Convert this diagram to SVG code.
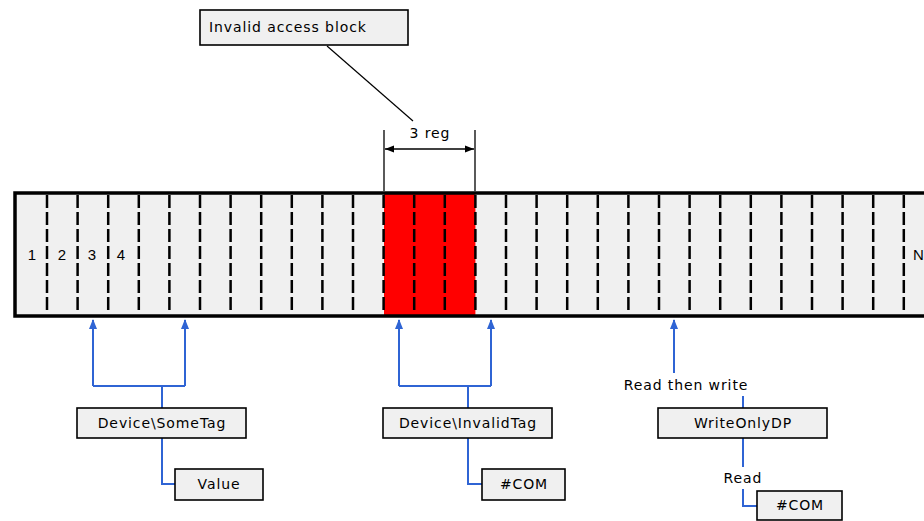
<svg xmlns="http://www.w3.org/2000/svg" width="924" height="521" viewBox="0 0 924 521">
<defs>
<style>
.box{fill:#f0f0f0;stroke:#000;stroke-width:1.6}
.t{font-family:"DejaVu Sans",sans-serif;font-size:14px;letter-spacing:0.9px;fill:#000}
.n{font-family:"Liberation Sans",Arial,sans-serif;font-size:15px;fill:#000}
.div{stroke:#000;stroke-width:2.5;stroke-dasharray:13 4}
.bl{fill:none;stroke:#2f64d4;stroke-width:2}
.blk{fill:none;stroke:#000;stroke-width:1.3}
</style>
<marker id="ab" viewBox="0 0 10 10" refX="9" refY="5" markerWidth="10" markerHeight="10" markerUnits="userSpaceOnUse" orient="auto">
<path d="M0,1 L10,5 L0,9 Z" fill="#2f64d4"/>
</marker>
<marker id="ak" viewBox="0 0 10 10" refX="10" refY="5" markerWidth="12" markerHeight="9" markerUnits="userSpaceOnUse" orient="auto">
<path d="M0,1 L10,5 L0,9 Z" fill="#000"/>
</marker>
</defs>
<rect width="924" height="521" fill="#fff"/>
<g id="register-strip">
<rect x="15" y="193" width="915" height="123" fill="#f0f0f0"/>
<rect x="384" y="193" width="91.4" height="123" fill="#ff0000"/>
<g class="div">
<line x1="47" y1="195" x2="47" y2="313"/>
<line x1="77.6" y1="195" x2="77.6" y2="313"/>
<line x1="108.2" y1="195" x2="108.2" y2="313"/>
<line x1="138.8" y1="195" x2="138.8" y2="313"/>
<line x1="169.4" y1="195" x2="169.4" y2="313"/>
<line x1="200" y1="195" x2="200" y2="313"/>
<line x1="230.6" y1="195" x2="230.6" y2="313"/>
<line x1="261.2" y1="195" x2="261.2" y2="313"/>
<line x1="291.8" y1="195" x2="291.8" y2="313"/>
<line x1="322.4" y1="195" x2="322.4" y2="313"/>
<line x1="353" y1="195" x2="353" y2="313"/>
<line x1="383.6" y1="195" x2="383.6" y2="313"/>
<line x1="414.2" y1="195" x2="414.2" y2="313"/>
<line x1="444.8" y1="195" x2="444.8" y2="313"/>
<line x1="475.4" y1="195" x2="475.4" y2="313"/>
<line x1="506" y1="195" x2="506" y2="313"/>
<line x1="536.6" y1="195" x2="536.6" y2="313"/>
<line x1="567.2" y1="195" x2="567.2" y2="313"/>
<line x1="597.8" y1="195" x2="597.8" y2="313"/>
<line x1="628.4" y1="195" x2="628.4" y2="313"/>
<line x1="659" y1="195" x2="659" y2="313"/>
<line x1="689.6" y1="195" x2="689.6" y2="313"/>
<line x1="720.2" y1="195" x2="720.2" y2="313"/>
<line x1="750.8" y1="195" x2="750.8" y2="313"/>
<line x1="781.4" y1="195" x2="781.4" y2="313"/>
<line x1="812" y1="195" x2="812" y2="313"/>
<line x1="842.6" y1="195" x2="842.6" y2="313"/>
<line x1="873.2" y1="195" x2="873.2" y2="313"/>
<line x1="903.8" y1="195" x2="903.8" y2="313"/>
</g>
<path d="M930,193 H15 V316 H930" fill="none" stroke="#000" stroke-width="3.5"/>
<text class="n" x="32" y="260" text-anchor="middle">1</text>
<text class="n" x="62" y="260" text-anchor="middle">2</text>
<text class="n" x="92" y="260" text-anchor="middle">3</text>
<text class="n" x="121" y="260" text-anchor="middle">4</text>
<text class="n" x="913" y="260">N</text>
</g>
<g id="dimension">
<line x1="384" y1="130" x2="384" y2="191" class="blk"/>
<line x1="475" y1="130" x2="475" y2="191" class="blk"/>
<line x1="429" y1="149" x2="385" y2="149" class="blk" marker-end="url(#ak)"/>
<line x1="429" y1="149" x2="474" y2="149" class="blk" marker-end="url(#ak)"/>
<text class="t" x="430" y="138" text-anchor="middle">3 reg</text>
</g>
<g id="connectors">
<line x1="327" y1="46" x2="413" y2="121" stroke="#000" stroke-width="1.2"/>
<path class="bl" d="M162,408 V386 M93,386 H185 M93,386 V321 M185,386 V321" />
<line class="bl" x1="93" y1="330" x2="93" y2="320" marker-end="url(#ab)"/>
<line class="bl" x1="185" y1="330" x2="185" y2="320" marker-end="url(#ab)"/>
<path class="bl" d="M162,438 V484 H175"/>
<path class="bl" d="M468,408 V386 M399,386 H491 M399,386 V321 M491,386 V321"/>
<line class="bl" x1="399" y1="330" x2="399" y2="320" marker-end="url(#ab)"/>
<line class="bl" x1="491" y1="330" x2="491" y2="320" marker-end="url(#ab)"/>
<path class="bl" d="M468,438 V484 H482"/>
<path class="bl" d="M674,373 V321"/>
<line class="bl" x1="674" y1="330" x2="674" y2="320" marker-end="url(#ab)"/>
<path class="bl" d="M743,396 V408"/>
<path class="bl" d="M743,438 V467"/>
<path class="bl" d="M743,489 V506 H757"/>
<text class="t" x="686" y="390" text-anchor="middle">Read then write</text>
<text class="t" x="743" y="483" text-anchor="middle">Read</text>
</g>
<g id="invalid-access-block">
<rect class="box" x="200" y="10" width="208" height="35"/>
<text class="t" x="209" y="32">Invalid access block</text>
</g>
<g id="device-sometag">
<rect class="box" x="77" y="408" width="169" height="30"/>
<text class="t" x="162" y="428" text-anchor="middle">Device\SomeTag</text>
</g>
<g id="value">
<rect class="box" x="175" y="469" width="88" height="31"/>
<text class="t" x="219" y="489" text-anchor="middle">Value</text>
</g>
<g id="device-invalidtag">
<rect class="box" x="383" y="408" width="169" height="30"/>
<text class="t" x="468" y="428" text-anchor="middle">Device\InvalidTag</text>
</g>
<g id="com1">
<rect class="box" x="482" y="469" width="83" height="31"/>
<text class="t" x="524" y="489" text-anchor="middle">#COM</text>
</g>
<g id="writeonlydp">
<rect class="box" x="658" y="408" width="169" height="30"/>
<text class="t" x="743" y="428" text-anchor="middle">WriteOnlyDP</text>
</g>
<g id="com2">
<rect class="box" x="757" y="491" width="85" height="29"/>
<text class="t" x="800" y="510" text-anchor="middle">#COM</text>
</g>
</svg>
